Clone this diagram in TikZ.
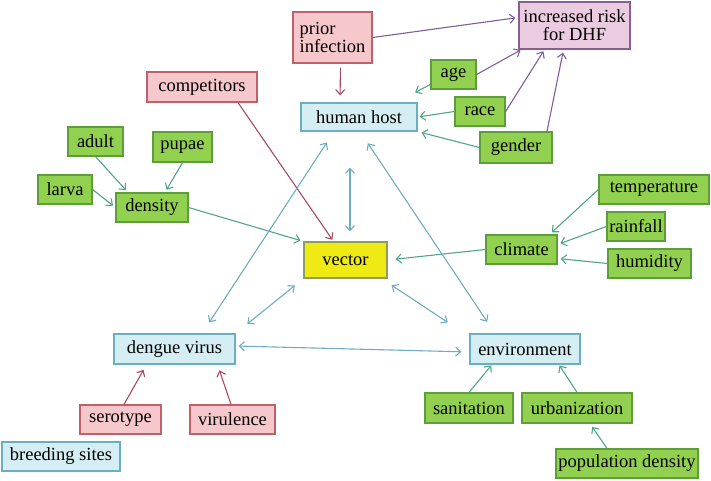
\documentclass[tikz,border=0pt]{standalone}
\usepackage{fontspec}
\setmainfont{Liberation Serif}
\usetikzlibrary{arrows.meta}

\definecolor{gfill}{HTML}{92D050}
\definecolor{gline}{HTML}{5E9E3A}
\definecolor{pfill}{HTML}{F6C8CC}
\definecolor{pline}{HTML}{C0606A}
\definecolor{bfill}{HTML}{D4EEF4}
\definecolor{bline}{HTML}{6AAFBF}
\definecolor{mfill}{HTML}{EACBE0}
\definecolor{mline}{HTML}{8A5F90}
\definecolor{yfill}{HTML}{EFEA14}
\definecolor{yline}{HTML}{8E9E5E}
\definecolor{garrow}{HTML}{52A58C}
\definecolor{barrow}{HTML}{6EADBE}
\definecolor{rarrow}{HTML}{A84A5E}
\definecolor{marrow}{HTML}{7E5E9C}

\begin{document}
\begin{tikzpicture}[x=1pt, y=-1pt,
    >={Straight Barb[length=5pt,width=9pt]},
    box/.style={draw, line width=1.2pt, inner sep=0pt, minimum height=29pt,
        font=\fontsize{18.5}{18}\selectfont},
    gbox/.style={box, fill=gfill, draw=gline},
    pbox/.style={box, fill=pfill, draw=pline},
    bbox/.style={box, fill=bfill, draw=bline},
    mbox/.style={box, fill=mfill, draw=mline},
    ybox/.style={box, fill=yfill, draw=yline},
    arr/.style={->, line width=1.1pt, shorten >=3pt},
    garr/.style={arr, garrow},
    rarr/.style={arr, rarrow},
    marr/.style={arr, marrow},
    barr/.style={<->, line width=1.1pt, barrow}]
    \useasboundingbox (0,0) rectangle (711,481);

    % Main nodes
    \node[ybox, minimum width=83pt, minimum height=36pt] (vector) at (345.5,260) {vector};
    \node[bbox, minimum width=116pt, minimum height=28pt] (host) at (359,117) {human host};
    \node[bbox, minimum width=121pt, minimum height=30pt] (dengue) at (174.5,349) {dengue virus};
    \node[bbox, minimum width=110pt, minimum height=30pt] (env) at (525,349) {environment};
    \node[bbox, minimum width=118pt] (breed) at (61,456.5) {breeding sites};

    % Human host side
    \node[pbox, minimum width=79pt, minimum height=51pt, align=left] (prior) at (332.5,37.5) {prior\\infection};
    \node[mbox, minimum width=111pt, minimum height=47pt, align=center] (risk) at (574.5,25.5) {increased risk\\for DHF};
    \node[gbox, minimum width=45pt] (age) at (453.5,74.5) {age};
    \node[gbox, minimum width=50pt] (race) at (480,111.5) {race};
    \node[gbox, minimum width=72pt, minimum height=31pt] (gender) at (516,147.5) {gender};

    % Vector side
    \node[pbox, minimum width=110pt, minimum height=30pt] (comp) at (202,87) {competitors};
    \node[gbox, minimum width=55pt] (adult) at (95.5,141.5) {adult};
    \node[gbox, minimum width=59pt, minimum height=30pt] (pupae) at (182.5,147) {pupae};
    \node[gbox, minimum width=54pt] (larva) at (65,189.5) {larva};
    \node[gbox, minimum width=72pt] (density) at (152,207.5) {density};
    \node[gbox, minimum width=110pt] (temp) at (654,189.5) {temperature};
    \node[gbox, minimum width=58pt] (rain) at (636,226.5) {rainfall};
    \node[gbox, minimum width=71pt] (climate) at (521.5,249.5) {climate};
    \node[gbox, minimum width=83pt] (humid) at (649.5,263.5) {humidity};

    % Virus and environment side
    \node[pbox, minimum width=81pt] (sero) at (120.5,419.5) {serotype};
    \node[pbox, minimum width=85pt] (viru) at (232.5,419.5) {virulence};
    \node[gbox, minimum width=88pt, minimum height=30pt] (sanit) at (469,408) {sanitation};
    \node[gbox, minimum width=110pt, minimum height=30pt] (urban) at (577,408) {urbanization};
    \node[gbox, minimum width=142pt] (popden) at (627,463.5) {population density};

    % Risk and host arrows
    \draw[rarr, shorten <=4pt, shorten >=7pt] ([xshift=8pt]prior.south) -- ([xshift=-19pt]host.north);
    \draw[marr] (prior.east) -- ([yshift=8pt]risk.west);
    \draw[marr, shorten >=1pt] (age.east) -- ([xshift=3pt]risk.south west);
    \draw[garr, shorten >=22pt] ([yshift=-10pt]age.west) -- ([xshift=-22pt]host.north east);
    \draw[marr, shorten >=2pt] (race.east) -- ([xshift=-30pt]risk.south);
    \draw[garr, shorten >=2pt] (race.west) -- (host.east);
    \draw[marr] ([xshift=31pt]gender.north) -- ([xshift=-11pt]risk.south);
    \draw[garr, shorten >=4pt] (gender.west) -- (host.south east);

    % Vector arrows
    \draw[rarr, shorten >=2pt] ([xshift=36pt]comp.south) -- ([xshift=-12pt]vector.north);
    \draw[garr] (adult.south) -- ([xshift=-24pt]density.north);
    \draw[garr] (pupae.south) -- ([xshift=13pt]density.north);
    \draw[garr] (larva.east) -- (density.west);
    \draw[garr] (density.east) -- (vector.north west);
    \draw[garr, shorten >=8pt] (climate.west) -- (vector.east);
    \draw[garr] (temp.west) -- ([xshift=-8pt]climate.north east);
    \draw[garr] (rain.west) -- ([yshift=5pt]climate.east);
    \draw[garr] (humid.west) -- ([yshift=-9pt]climate.east);

    % Triangle
    \draw[barr, shorten <=36pt, shorten >=10pt] ([xshift=-9pt]host.south) -- ([xshift=4.5pt]vector.north);
    \draw[barr, shorten <=13pt, shorten >=13pt] ([xshift=-25pt]host.south) -- ([xshift=27.5pt]dengue.north);
    \draw[barr, shorten <=14pt, shorten >=14pt] ([xshift=1pt]host.south) -- ([xshift=-30pt]env.north);
    \draw[barr, shorten <=11pt, shorten >=15pt] (vector.south west) -- (dengue.north east);
    \draw[barr, shorten <=12pt, shorten >=20pt] ([xshift=-6pt]vector.south east) -- ([xshift=-5pt]env.north west);
    \draw[barr, shorten <=3pt, shorten >=8pt] ([yshift=3pt]dengue.east) -- ([yshift=-3pt]env.west);

    % Virus and environment arrows
    \draw[rarr, shorten >=6pt] ([xshift=3.5pt]sero.north) -- ([xshift=-28pt]dengue.south);
    \draw[rarr, shorten >=6pt] ([xshift=-1.5pt]viru.north) -- ([xshift=43pt]dengue.south);
    \draw[garr, shorten >=1pt] (sanit.north) -- ([xshift=-33pt]env.south);
    \draw[garr, shorten >=1pt] (urban.north) -- ([xshift=34pt]env.south);
    \draw[garr, shorten >=4pt] ([xshift=-20pt]popden.north) -- ([xshift=13pt]urban.south);
\end{tikzpicture}
\end{document}
